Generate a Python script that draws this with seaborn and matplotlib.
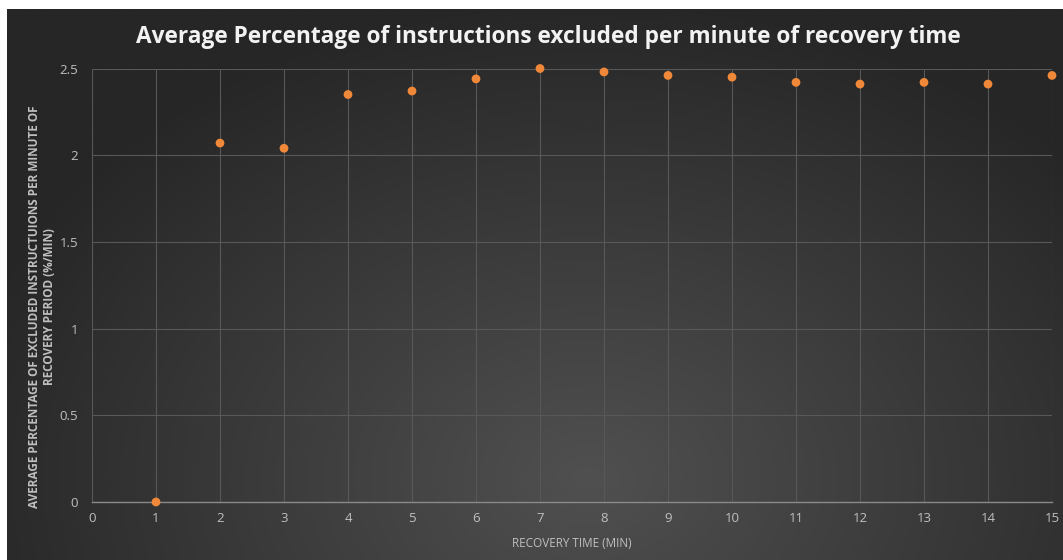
import numpy as np
import pandas as pd
import matplotlib
matplotlib.use("Agg")
import matplotlib.pyplot as plt
import seaborn as sns

recovery_time = [1, 2, 3, 4, 5, 6, 7, 8, 9, 10, 11, 12, 13, 14, 15]
pct_excluded = [0.0, 2.07, 2.04, 2.35, 2.37, 2.44, 2.50, 2.48, 2.46, 2.45, 2.42, 2.41, 2.42, 2.41, 2.46]
x_ticks = list(range(0, 16))
y_ticks = [0, 0.5, 1, 1.5, 2, 2.5]
y_tick_labels = ["0", "0.5", "1", "1.5", "2", "2.5"]

df = pd.DataFrame({"time": recovery_time, "pct": pct_excluded})

sns.set_theme(style="dark")
plt.rcParams["font.family"] = ["Open Sans", "DejaVu Sans"]

W, H = 1063, 560
fig = plt.figure(figsize=(W / 100, H / 100), dpi=100, facecolor="white")

# background gradient panel (white margin top and left)
bg = fig.add_axes([7 / W, 0, 1 - 7 / W, 1 - 9 / H], zorder=0)
ny, nx = 300, 600
yy, xx = np.mgrid[0:ny, 0:nx]
cx, cy = nx * 0.55, ny * 0.85
d = np.sqrt(((xx - cx) / nx) ** 2 * 1.0 + ((yy - cy) / ny) ** 2 * 0.5)
d = np.clip(d / 0.62, 0, 1)
light = np.array([0x50, 0x50, 0x50]) / 255
dark = np.array([0x26, 0x26, 0x26]) / 255
img = light[None, None, :] * (1 - d[..., None]) + dark[None, None, :] * d[..., None]
bg.imshow(img, aspect="auto", origin="upper", extent=[0, 1, 0, 1])
bg.set_axis_off()

ax = fig.add_axes([92 / W, 1 - 502 / H, (1052 - 92) / W, (502 - 68.5) / H], zorder=1)
ax.patch.set_alpha(0)

sns.scatterplot(data=df, x="time", y="pct", ax=ax, color="#F0883A", s=40,
                edgecolor="none", zorder=3, clip_on=False)

ax.set_xlim(0, 15)
ax.set_ylim(0, 2.5)
ax.set_xticks(x_ticks)
ax.set_yticks(y_ticks)
ax.set_yticklabels(y_tick_labels)
ax.grid(True, color="#585858", linewidth=0.8)
ax.set_axisbelow(True)
for side in ["top", "right", "left"]:
    ax.spines[side].set_visible(False)
ax.spines["bottom"].set_color("#8a8a8a")
ax.spines["bottom"].set_linewidth(1.0)
ax.tick_params(axis="both", colors="#bfbfbf", labelsize=9.5, length=0)
ax.tick_params(axis="x", pad=7)
ax.tick_params(axis="y", pad=10)

ax.set_xlabel("RECOVERY TIME (MIN)", color="#bfbfbf", fontsize=8.5, labelpad=9)
ax.set_ylabel("AVERAGE PERCENTAGE OF EXCLUDED INSTRUCTUIONS PER MINUTE OF\nRECOVERY PERIOD (%/MIN)",
              color="#bfbfbf", fontsize=8.5, fontweight="bold", linespacing=1.2,
              va="center", ha="center")
ax.yaxis.set_label_coords(-0.052, 0.45)

fig.text((134 + 963) / 2 / W, 1 - 37 / H,
         "Average Percentage of instructions excluded per minute of recovery time",
         ha="center", va="center", color="#f2f2f2", fontsize=16.3, fontweight="bold")

fig.savefig("out.png", dpi=100, facecolor="white")
